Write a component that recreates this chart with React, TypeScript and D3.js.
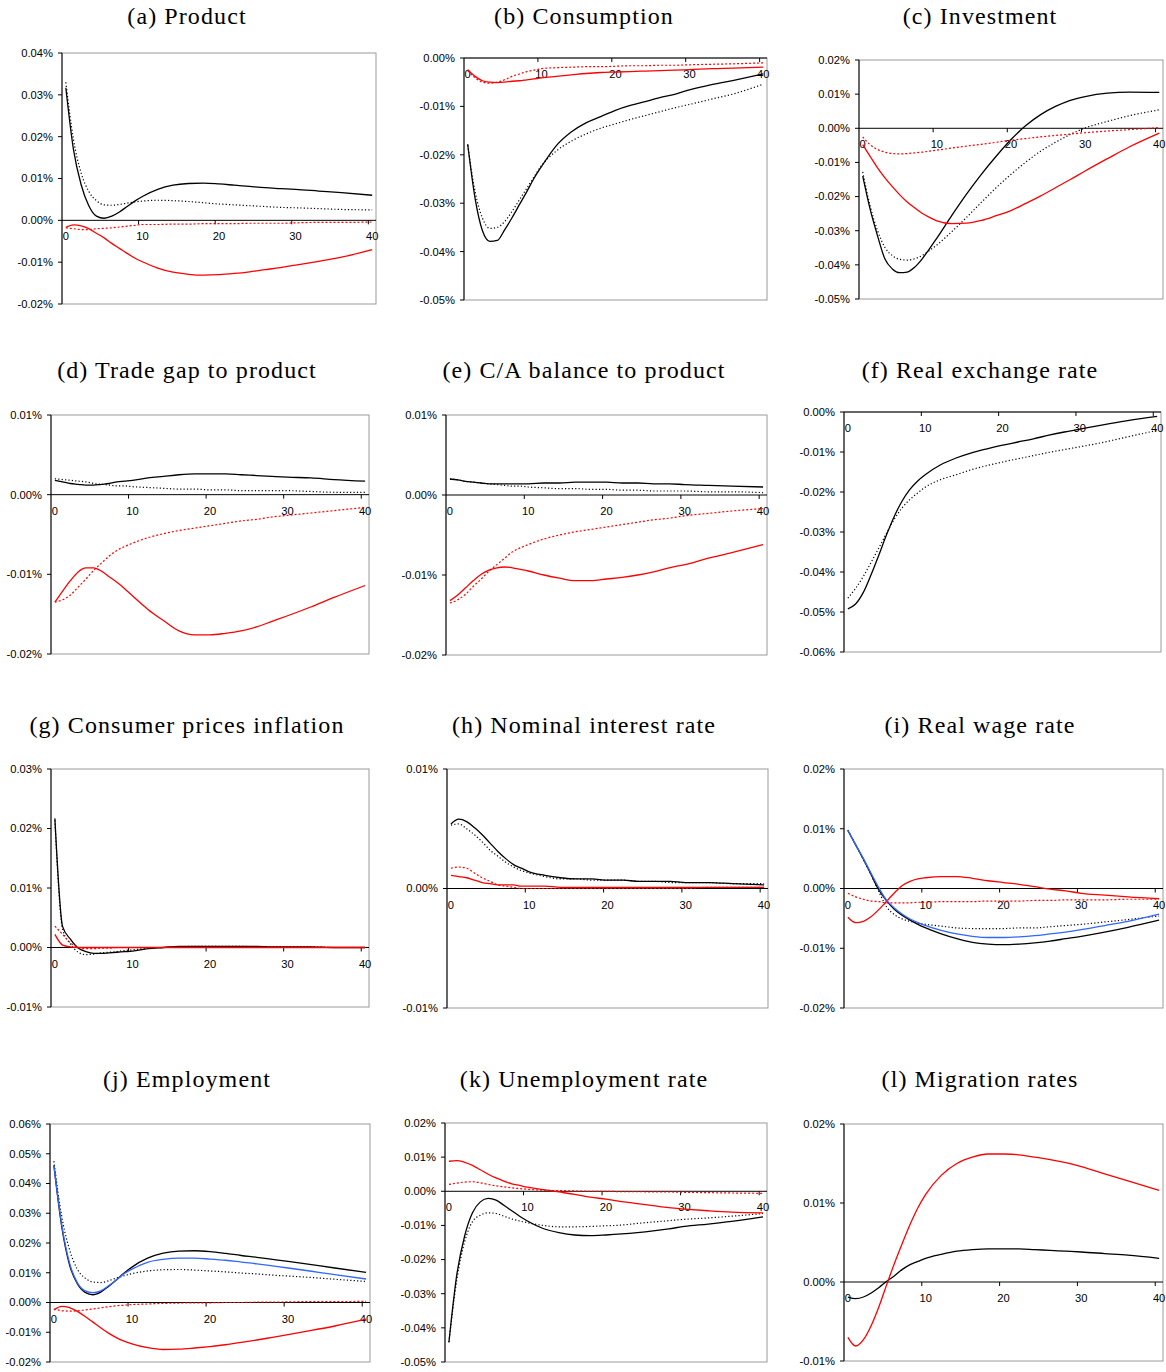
import React from "react";
import * as d3 from "d3";

// periods after the shock (quarters), shared by every series
const periods = [0, 1, 2, 3, 4, 5, 6, 7, 8, 9, 10, 12, 14, 16, 18, 20, 22, 24, 26, 28, 30, 33, 36, 40];
const xLabels = [0, 10, 20, 30, 40];

// (a) Product
const productBlack = [0.0317, 0.0169, 0.0085, 0.0035, 0.001, 0.0005, 0.001, 0.002, 0.0033, 0.0046, 0.0057, 0.0074, 0.0084, 0.0088, 0.0089, 0.0087, 0.0084, 0.0081, 0.0078, 0.0076, 0.0074, 0.007, 0.0066, 0.006];
const productBlackDot = [0.033, 0.0193, 0.0113, 0.0069, 0.0047, 0.0037, 0.0036, 0.0038, 0.0041, 0.0044, 0.0046, 0.0048, 0.0047, 0.0045, 0.0042, 0.0039, 0.0037, 0.0035, 0.0033, 0.0031, 0.003, 0.0028, 0.0026, 0.0025];
const productRed = [-0.0017, -0.0011, -0.0013, -0.002, -0.0031, -0.0042, -0.0055, -0.0067, -0.0079, -0.009, -0.0099, -0.0114, -0.0124, -0.0129, -0.0131, -0.013, -0.0127, -0.0123, -0.0118, -0.0113, -0.0107, -0.0098, -0.0088, -0.007];
const productRedDot = [-0.0018, -0.002, -0.0022, -0.0022, -0.002, -0.0019, -0.0018, -0.0016, -0.0014, -0.0012, -0.001, -0.001, -0.0009, -0.0009, -0.0008, -0.0008, -0.0008, -0.0007, -0.0007, -0.0007, -0.0006, -0.0005, -0.0005, -0.0004];

// (b) Consumption
const consBlack = [-0.0178, -0.029, -0.0357, -0.0379, -0.0377, -0.0355, -0.033, -0.0303, -0.0276, -0.0248, -0.0224, -0.0181, -0.0153, -0.0134, -0.0121, -0.0108, -0.0098, -0.009, -0.0082, -0.0075, -0.0066, -0.0055, -0.0046, -0.0033];
const consBlackDot = [-0.018, -0.0276, -0.0331, -0.0352, -0.035, -0.0338, -0.0317, -0.0293, -0.0269, -0.0245, -0.0222, -0.0192, -0.0172, -0.0157, -0.0145, -0.0136, -0.0127, -0.0119, -0.0111, -0.0103, -0.0096, -0.0085, -0.0074, -0.0054];
const consRed = [-0.0024, -0.0038, -0.0047, -0.005, -0.0051, -0.005, -0.0048, -0.0047, -0.0045, -0.0043, -0.0041, -0.0038, -0.0035, -0.0032, -0.003, -0.0029, -0.0028, -0.0027, -0.0026, -0.0025, -0.0024, -0.0022, -0.0021, -0.0019];
const consRedDot = [-0.0026, -0.0041, -0.005, -0.0052, -0.005, -0.0045, -0.0038, -0.0033, -0.0028, -0.0025, -0.0022, -0.002, -0.0019, -0.0018, -0.0018, -0.0017, -0.0016, -0.0016, -0.0015, -0.0015, -0.0014, -0.0013, -0.0012, -0.001];

// (c) Investment
const invBlack = [-0.014, -0.0237, -0.0315, -0.0383, -0.0412, -0.0423, -0.0421, -0.0407, -0.0383, -0.0353, -0.0322, -0.0256, -0.0193, -0.0135, -0.0082, -0.0033, 0.0008, 0.004, 0.0064, 0.0082, 0.0093, 0.0103, 0.0106, 0.0105];
const invBlackDot = [-0.0128, -0.0227, -0.03, -0.0349, -0.0373, -0.0384, -0.0386, -0.0382, -0.0373, -0.0358, -0.0342, -0.0303, -0.0261, -0.0217, -0.0174, -0.0135, -0.0099, -0.0067, -0.0041, -0.0018, 0.0001, 0.002, 0.0037, 0.0054];
const invRed = [-0.0048, -0.0082, -0.0116, -0.0145, -0.0171, -0.0195, -0.0216, -0.0233, -0.0249, -0.0261, -0.0271, -0.0279, -0.0278, -0.027, -0.0256, -0.0241, -0.022, -0.0198, -0.0174, -0.015, -0.0125, -0.0089, -0.0054, -0.0014];
const invRedDot = [-0.0025, -0.0048, -0.0062, -0.007, -0.0074, -0.0075, -0.0074, -0.0072, -0.007, -0.0067, -0.0064, -0.0058, -0.0052, -0.0047, -0.0041, -0.0035, -0.003, -0.0025, -0.0021, -0.0017, -0.0013, -0.0008, -0.0004, 0.0002];

// (d) Trade gap to product
const tradeBlack = [0.0018, 0.0016, 0.0014, 0.0013, 0.0012, 0.0012, 0.0013, 0.0014, 0.0016, 0.0017, 0.0018, 0.0021, 0.0023, 0.0025, 0.0026, 0.0026, 0.0026, 0.0025, 0.0024, 0.0023, 0.0022, 0.0021, 0.0019, 0.0017];
const tradeBlackDot = [0.002, 0.0019, 0.0018, 0.0017, 0.0016, 0.0014, 0.0013, 0.0012, 0.0011, 0.0011, 0.001, 0.0009, 0.0008, 0.0007, 0.0007, 0.0006, 0.0006, 0.0005, 0.0005, 0.0005, 0.0005, 0.0004, 0.0003, 0.0003];
const tradeRed = [-0.0135, -0.0121, -0.0108, -0.0097, -0.0092, -0.0092, -0.0096, -0.0103, -0.011, -0.0118, -0.0127, -0.0144, -0.0158, -0.0171, -0.0176, -0.0176, -0.0174, -0.0171, -0.0166, -0.0159, -0.0152, -0.0141, -0.0129, -0.0114];
const tradeRedDot = [-0.0135, -0.0132, -0.0126, -0.0116, -0.0106, -0.0095, -0.0086, -0.0077, -0.007, -0.0065, -0.0061, -0.0054, -0.0049, -0.0045, -0.0042, -0.0039, -0.0036, -0.0033, -0.0031, -0.0028, -0.0026, -0.0023, -0.002, -0.0016];

// (e) C/A balance to product
const caBlack = [0.002, 0.0019, 0.0017, 0.0016, 0.0015, 0.0014, 0.0014, 0.0014, 0.0014, 0.0014, 0.0014, 0.0015, 0.0015, 0.0016, 0.0016, 0.0016, 0.0015, 0.0015, 0.0014, 0.0014, 0.0013, 0.0012, 0.0011, 0.001];
const caBlackDot = [0.002, 0.0019, 0.0017, 0.0016, 0.0015, 0.0014, 0.0013, 0.0012, 0.0011, 0.0011, 0.001, 0.0009, 0.0008, 0.0008, 0.0007, 0.0007, 0.0006, 0.0006, 0.0005, 0.0005, 0.0005, 0.0004, 0.0004, 0.0003];
const caRed = [-0.0132, -0.0125, -0.0116, -0.0107, -0.0099, -0.0094, -0.0091, -0.009, -0.0091, -0.0093, -0.0095, -0.01, -0.0104, -0.0107, -0.0107, -0.0105, -0.0103, -0.01, -0.0096, -0.0091, -0.0087, -0.0079, -0.0072, -0.0062];
const caRedDot = [-0.0135, -0.0131, -0.0124, -0.0114, -0.0105, -0.0095, -0.0087, -0.0079, -0.0071, -0.0066, -0.0062, -0.0055, -0.005, -0.0046, -0.0043, -0.004, -0.0037, -0.0034, -0.0031, -0.0029, -0.0026, -0.0023, -0.002, -0.0017];

// (f) Real exchange rate
const rerBlack = [-0.0492, -0.048, -0.0451, -0.0407, -0.0358, -0.0307, -0.0261, -0.0223, -0.0194, -0.0173, -0.0157, -0.0132, -0.0115, -0.0102, -0.0092, -0.0083, -0.0075, -0.0067, -0.0058, -0.005, -0.0043, -0.0032, -0.0022, -0.0011];
const rerBlackDot = [-0.0465, -0.0441, -0.0411, -0.0376, -0.034, -0.0303, -0.0268, -0.024, -0.0219, -0.0203, -0.0188, -0.0169, -0.0157, -0.0144, -0.0134, -0.0125, -0.0117, -0.0109, -0.0101, -0.0094, -0.0087, -0.0076, -0.0063, -0.0046];

// (g) Consumer prices inflation
const cpiBlack = [0.0217, 0.0035, 0.0014, -0.0001, -0.0007, -0.001, -0.001, -0.0009, -0.0008, -0.0007, -0.0006, -0.0002, 0, 0.0002, 0.0002, 0.0002, 0.0002, 0.0002, 0.0002, 0.0001, 0.0001, 0.0001, 0, 0];
const cpiBlackDot = [0.0214, 0.003, 0.0006, -0.0008, -0.0012, -0.0011, -0.0009, -0.0008, -0.0007, -0.0005, -0.0004, -0.0001, 0, 0.0001, 0.0002, 0.0002, 0.0002, 0.0002, 0.0001, 0.0001, 0.0001, 0.0001, 0, 0];
const cpiRed = [0.0022, 0.0004, 0.0001, 0, 0, 0, 0, 0, 0, 0, 0, 0, 0, 0, 0, 0, 0, 0, 0, 0, 0, 0, 0, 0];
const cpiRedDot = [0.0036, 0.0022, 0.0008, 0, -0.0002, -0.0002, -0.0001, -0.0001, 0, 0, 0, 0, 0, 0, 0, 0, 0, 0, 0, 0, 0, 0, 0, 0];

// (h) Nominal interest rate
const rateBlack = [0.0054, 0.0058, 0.0056, 0.0051, 0.0045, 0.0038, 0.0031, 0.0025, 0.002, 0.0017, 0.0014, 0.0011, 0.0009, 0.0008, 0.0008, 0.0007, 0.0007, 0.0006, 0.0006, 0.0006, 0.0005, 0.0005, 0.0004, 0.0003];
const rateBlackDot = [0.0053, 0.0054, 0.005, 0.0045, 0.0039, 0.0032, 0.0027, 0.0022, 0.0018, 0.0015, 0.0013, 0.001, 0.0008, 0.0008, 0.0007, 0.0007, 0.0007, 0.0006, 0.0006, 0.0005, 0.0005, 0.0005, 0.0004, 0.0004];
const rateRed = [0.0011, 0.001, 0.0009, 0.0007, 0.0005, 0.0004, 0.0003, 0.0003, 0.0003, 0.0002, 0.0002, 0.0002, 0.0001, 0.0001, 0.0001, 0.0001, 0.0001, 0.0001, 0.0001, 0.0001, 0.0001, 0.0001, 0.0001, 0.0001];
const rateRedDot = [0.0017, 0.0018, 0.0017, 0.0013, 0.0009, 0.0006, 0.0003, 0.0002, 0.0001, 0, 0, 0, 0, 0, 0, 0, 0, 0, 0, 0, 0, 0.0001, 0.0001, 0.0001];

// (i) Real wage rate
const wageBlack = [0.0097, 0.0073, 0.0049, 0.0023, -0.0003, -0.0021, -0.0035, -0.0045, -0.0053, -0.006, -0.0066, -0.0076, -0.0084, -0.009, -0.0093, -0.0094, -0.0093, -0.0091, -0.0088, -0.0084, -0.008, -0.0073, -0.0065, -0.0053];
const wageBlackDot = [0.0098, 0.0073, 0.0048, 0.0022, -0.0006, -0.0031, -0.0044, -0.0051, -0.0055, -0.0058, -0.006, -0.0063, -0.0066, -0.0067, -0.0067, -0.0067, -0.0066, -0.0066, -0.0064, -0.0062, -0.006, -0.0056, -0.0052, -0.0046];
const wageRed = [-0.0048, -0.0057, -0.0055, -0.0047, -0.0035, -0.0021, -0.0007, 0.0005, 0.0012, 0.0016, 0.0018, 0.002, 0.002, 0.0017, 0.0013, 0.001, 0.0007, 0.0003, -0.0001, -0.0004, -0.0008, -0.0011, -0.0014, -0.0017];
const wageRedDot = [-0.0008, -0.0014, -0.0018, -0.0021, -0.0022, -0.0024, -0.0024, -0.0024, -0.0024, -0.0023, -0.0023, -0.0022, -0.0022, -0.0022, -0.0021, -0.0021, -0.0021, -0.002, -0.002, -0.0019, -0.0019, -0.0019, -0.0018, -0.0018];
const wageBlue = [0.0097, 0.0073, 0.005, 0.0025, 0.0001, -0.002, -0.0033, -0.0043, -0.0051, -0.0057, -0.0062, -0.007, -0.0076, -0.008, -0.0082, -0.0082, -0.0081, -0.0079, -0.0076, -0.0073, -0.0069, -0.0062, -0.0055, -0.0043];

// (j) Employment
const empBlack = [0.0461, 0.0256, 0.0127, 0.0063, 0.0034, 0.0026, 0.0035, 0.0054, 0.0076, 0.0099, 0.0119, 0.0149, 0.0166, 0.0173, 0.0174, 0.0171, 0.0165, 0.0158, 0.0152, 0.0145, 0.0138, 0.0127, 0.0116, 0.0101];
const empBlackDot = [0.0475, 0.029, 0.0178, 0.0112, 0.0082, 0.0069, 0.0067, 0.0073, 0.0082, 0.009, 0.0097, 0.0106, 0.011, 0.0111, 0.0109, 0.0106, 0.0103, 0.0099, 0.0096, 0.0092, 0.0089, 0.0084, 0.0078, 0.0071];
const empRed = [-0.0025, -0.0013, -0.0017, -0.003, -0.0047, -0.0066, -0.0085, -0.0103, -0.0118, -0.013, -0.0139, -0.0152, -0.0158, -0.0157, -0.0153, -0.0148, -0.0142, -0.0134, -0.0126, -0.0117, -0.0108, -0.0094, -0.0079, -0.0056];
const empRedDot = [-0.0022, -0.0027, -0.0029, -0.0028, -0.0025, -0.0022, -0.0018, -0.0014, -0.0011, -0.0009, -0.0007, -0.0005, -0.0003, -0.0002, -0.0001, -0.0001, 0, 0, 0.0001, 0.0001, 0.0002, 0.0003, 0.0003, 0.0004];
const empBlue = [0.0461, 0.0262, 0.0133, 0.0067, 0.0039, 0.0033, 0.0039, 0.0056, 0.0076, 0.0097, 0.0112, 0.0135, 0.0145, 0.0149, 0.0149, 0.0146, 0.0142, 0.0136, 0.013, 0.0123, 0.0116, 0.0105, 0.0094, 0.0079];

// (k) Unemployment rate
const unempBlack = [-0.0442, -0.0245, -0.0131, -0.0063, -0.0031, -0.0021, -0.0026, -0.0041, -0.0057, -0.0073, -0.0087, -0.0109, -0.0121, -0.0128, -0.013, -0.0128, -0.0125, -0.0121, -0.0116, -0.011, -0.0103, -0.0096, -0.0088, -0.0075];
const unempBlackDot = [-0.0442, -0.026, -0.0148, -0.0089, -0.007, -0.0063, -0.0065, -0.0073, -0.0081, -0.0087, -0.0092, -0.01, -0.0104, -0.0104, -0.0103, -0.0101, -0.0099, -0.0094, -0.009, -0.0086, -0.0082, -0.0078, -0.0073, -0.0065];
const unempRed = [0.0088, 0.009, 0.0085, 0.0076, 0.0063, 0.005, 0.0039, 0.003, 0.0022, 0.0017, 0.0012, 0.0005, -0.0002, -0.0009, -0.0017, -0.0023, -0.003, -0.0036, -0.0042, -0.0048, -0.0052, -0.0057, -0.0061, -0.0063];
const unempRedDot = [0.002, 0.0024, 0.0027, 0.0028, 0.0025, 0.002, 0.0016, 0.0013, 0.001, 0.0008, 0.0006, 0.0003, 0.0002, 0.0001, 0, 0, -0.0001, -0.0001, -0.0002, -0.0002, -0.0003, -0.0004, -0.0005, -0.0006];

// (l) Migration rates
const migBlack = [-0.0019, -0.0021, -0.0019, -0.0014, -0.0007, 0.0001, 0.0008, 0.0016, 0.0022, 0.0026, 0.003, 0.0035, 0.0039, 0.0041, 0.0042, 0.0042, 0.0042, 0.0041, 0.004, 0.0039, 0.0038, 0.0036, 0.0034, 0.003];
const migRed = [-0.007, -0.0081, -0.0073, -0.0055, -0.0031, -0.0003, 0.0024, 0.0049, 0.0073, 0.0094, 0.0111, 0.0135, 0.015, 0.0158, 0.0162, 0.0162, 0.0161, 0.0158, 0.0155, 0.0151, 0.0146, 0.0137, 0.0128, 0.0116];

const BLACK = "#000000";
const RED = "#ff0000";
const BLUE = "#3366ff";

type Series = { values: number[]; color: string; dotted?: boolean };
type Panel = { title: string; domain: [number, number]; box: number[]; series: Series[] };

const four = (b: number[], bd: number[], r: number[], rd: number[]): Series[] => [
  { values: b, color: BLACK },
  { values: bd, color: BLACK, dotted: true },
  { values: r, color: RED },
  { values: rd, color: RED, dotted: true },
];

// box = [left, top, right, bottom] of the plot area
const panels: Panel[] = [
  { title: "(a) Product", domain: [-0.02, 0.04], box: [62, 53, 376, 304], series: four(productBlack, productBlackDot, productRed, productRedDot) },
  { title: "(b) Consumption", domain: [-0.05, 0], box: [464, 58, 767, 300], series: four(consBlack, consBlackDot, consRed, consRedDot) },
  { title: "(c) Investment", domain: [-0.05, 0.02], box: [859, 60, 1163, 299], series: four(invBlack, invBlackDot, invRed, invRedDot) },
  { title: "(d) Trade gap to product", domain: [-0.02, 0.01], box: [51, 415, 369, 654], series: four(tradeBlack, tradeBlackDot, tradeRed, tradeRedDot) },
  { title: "(e) C/A balance to product", domain: [-0.02, 0.01], box: [446, 415, 767, 655], series: four(caBlack, caBlackDot, caRed, caRedDot) },
  { title: "(f) Real exchange rate", domain: [-0.06, 0], box: [844, 412, 1161, 652], series: [{ values: rerBlack, color: BLACK }, { values: rerBlackDot, color: BLACK, dotted: true }] },
  { title: "(g) Consumer prices inflation", domain: [-0.01, 0.03], box: [51, 769, 369, 1007], series: four(cpiBlack, cpiBlackDot, cpiRed, cpiRedDot) },
  { title: "(h) Nominal interest rate", domain: [-0.01, 0.01], box: [447, 769, 768, 1008], series: four(rateBlack, rateBlackDot, rateRed, rateRedDot) },
  { title: "(i) Real wage rate", domain: [-0.02, 0.02], box: [844, 769, 1163, 1008], series: [...four(wageBlack, wageBlackDot, wageRed, wageRedDot), { values: wageBlue, color: BLUE }] },
  { title: "(j) Employment", domain: [-0.02, 0.06], box: [50, 1124, 370, 1362], series: [...four(empBlack, empBlackDot, empRed, empRedDot), { values: empBlue, color: BLUE }] },
  { title: "(k) Unemployment rate", domain: [-0.05, 0.02], box: [445, 1123, 767, 1362], series: four(unempBlack, unempBlackDot, unempRed, unempRedDot) },
  { title: "(l) Migration rates", domain: [-0.01, 0.02], box: [844, 1124, 1163, 1361], series: [{ values: migBlack, color: BLACK }, { values: migRed, color: RED }] },
];

const titleX = [187, 584, 980];
const titleY = [24, 378, 733, 1087];

const pct = (v: number) => (Math.abs(v) < 1e-9 ? 0 : v).toFixed(2) + "%";

function ChartPanel({ p, idx }: { p: Panel; idx: number }) {
  const [l, t, r, b] = p.box;
  const x = d3.scaleLinear().domain([-0.5, 40.5]).range([l, r]);
  const y = d3.scaleLinear().domain(p.domain).range([b, t]);
  const lo = Math.round(p.domain[0] * 100);
  const hi = Math.round(p.domain[1] * 100);
  const yTicks = d3.range(lo, hi + 1).map((k) => k / 100);
  const y0 = y(0);
  const line = d3
    .line<number>()
    .x((_, i) => x(periods[i]))
    .y((v) => y(v))
    .curve(d3.curveMonotoneX);

  return (
    <g>
      <text
        x={titleX[idx % 3]}
        y={titleY[Math.floor(idx / 3)]}
        textAnchor="middle"
        fontFamily="'Liberation Serif', serif"
        fontSize={24}
        letterSpacing={1.1}
      >
        {p.title}
      </text>
      <rect x={l} y={t} width={r - l} height={b - t} fill="none" stroke="#9a9a9a" strokeWidth={1} />
      {yTicks.map((v) => (
        <g key={v}>
          <line x1={l - 4} x2={l} y1={y(v)} y2={y(v)} stroke="#000" />
          <text x={l - 9} y={y(v)} dy="0.35em" textAnchor="end" fontFamily="'Liberation Sans', Arial, sans-serif" fontSize={11.2}>
            {pct(v)}
          </text>
        </g>
      ))}
      {xLabels.map((v) => (
        <g key={v}>
          {v > 0 && <line x1={x(v - 0.5)} x2={x(v - 0.5)} y1={y0} y2={y0 + 4} stroke="#000" />}
          <text x={x(v)} y={y0 + 20} textAnchor="middle" fontFamily="'Liberation Sans', Arial, sans-serif" fontSize={11.2}>
            {v}
          </text>
        </g>
      ))}
      <line x1={l} x2={r} y1={y0} y2={y0} stroke="#000" strokeWidth={1} />
      <line x1={l} x2={l} y1={t} y2={b} stroke="#000" strokeWidth={1} />
      {p.series.map((s, i) => (
        <path
          key={i}
          d={line(s.values) || ""}
          fill="none"
          stroke={s.color}
          strokeWidth={s.dotted ? 1.2 : 1.3}
          strokeDasharray={s.dotted ? (s.color === RED ? "2,2" : "1.2,2.2") : undefined}
        />
      ))}
    </g>
  );
}

export default function App() {
  return (
    <svg
      width={1166}
      height={1372}
      style={{ position: "absolute", left: 0, top: 0, background: "#fff" }}
    >
      {panels.map((p, i) => (
        <ChartPanel key={p.title} p={p} idx={i} />
      ))}
    </svg>
  );
}
